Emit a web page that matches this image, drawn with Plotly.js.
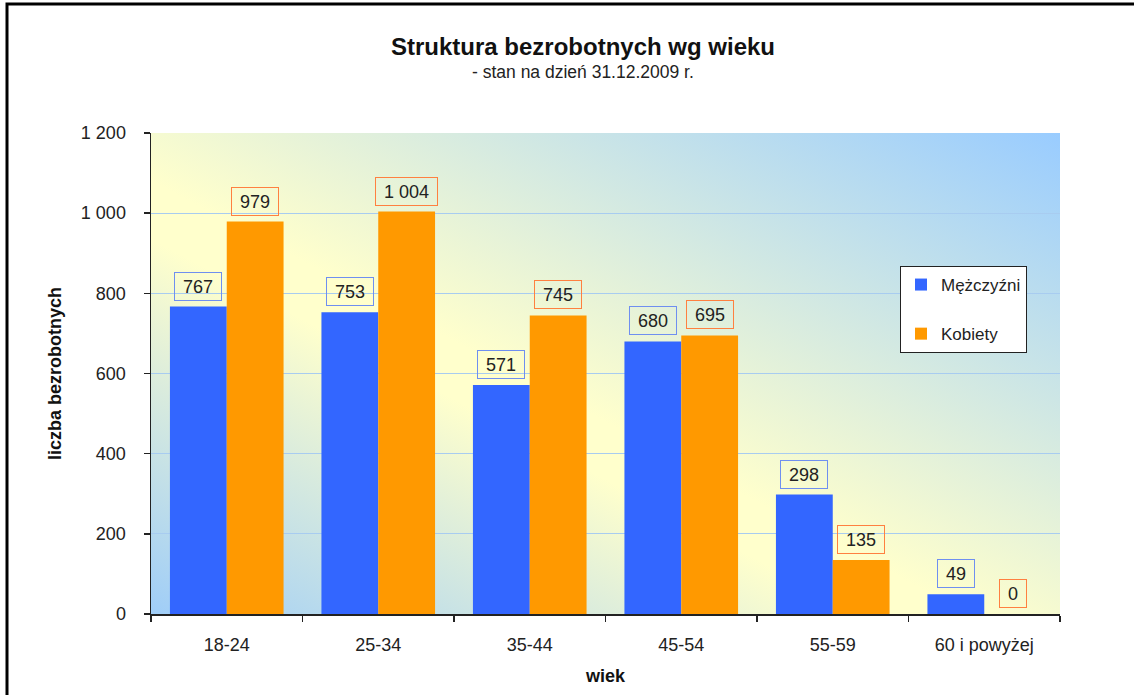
<!DOCTYPE html>
<html>
<head>
<meta charset="utf-8">
<script src="https://cdn.plot.ly/plotly-3.0.1.min.js"></script>
<style>html,body{margin:0;padding:0;background:#fff;}#chart{width:1134px;height:695px;}</style>
</head>
<body>
<div id="chart"></div>
<script>
const categories = ['18-24', '25-34', '35-44', '45-54', '55-59', '60 i powyżej'];
const men = [767, 753, 571, 680, 298, 49];
const women = [979, 1004, 745, 695, 135, 0];
const seriesNames = ['Mężczyźni', 'Kobiety'];
const yTickVals = [0, 200, 400, 600, 800, 1000, 1200];
const titleText = 'Struktura bezrobotnych wg wieku';
const subtitleText = '- stan na dzień 31.12.2009 r.';

const FONT = 'Liberation Sans, Arial, sans-serif';
const BLUE = '#3366FF';
const ORANGE = '#FF9900';
const LABEL_SIZE = 18;
const bargap = 0.25;
const halfBar = (1 - bargap) / 4;

function fmt(v) {
  return String(v).replace(/\B(?=(\d{3})+(?!\d))/g, ' ');
}
const ctx = document.createElement('canvas').getContext('2d');
ctx.font = LABEL_SIZE + 'px "Liberation Sans", Arial, sans-serif';
function boxWidth(t) { return Math.round(ctx.measureText(t).width + 16); }

const gradSvg = "<svg xmlns='http://www.w3.org/2000/svg' width='909' height='481' viewBox='0 0 909 481' preserveAspectRatio='none'>" +
  "<defs><linearGradient id='g' x1='1' y1='0' x2='0' y2='1'>" +
  "<stop offset='0' stop-color='#99CCFF'/>" +
  "<stop offset='0.55' stop-color='#FFFFCC'/>" +
  "<stop offset='0.61' stop-color='#FFFFCC'/>" +
  "<stop offset='1' stop-color='#9FCDF8'/>" +
  "</linearGradient></defs><rect x='0' y='0' width='909' height='481' fill='url(#g)'/></svg>";
const gradSrc = 'data:image/svg+xml;charset=utf-8,' + encodeURIComponent(gradSvg);

const traces = [
  {type: 'bar', name: seriesNames[0], x: categories, y: men, marker: {color: BLUE}, legendgroup: 'm', hoverinfo: 'skip'},
  {type: 'bar', name: seriesNames[1], x: categories, y: women, marker: {color: ORANGE}, legendgroup: 'k', hoverinfo: 'skip'}
];

const L = 151, R = 1060, T = 133, B = 614, W = 1134, H = 695;
const pw = R - L, ph = B - T;

const annotations = [];
categories.forEach((c, i) => {
  const tm = fmt(men[i]), tw = fmt(women[i]);
  annotations.push({x: i - halfBar, y: men[i], xref: 'x', yref: 'y', text: tm, showarrow: false,
    yanchor: 'bottom', yshift: 6, width: boxWidth(tm), height: 27, borderpad: 0,
    bordercolor: '#6F8FF0', borderwidth: 1,
    font: {family: FONT, size: LABEL_SIZE, color: '#222'}});
  annotations.push({x: i + halfBar, y: women[i], xref: 'x', yref: 'y', text: tw, showarrow: false,
    yanchor: 'bottom', yshift: 6, width: boxWidth(tw), height: 27, borderpad: 0,
    bordercolor: '#FF8040', borderwidth: 1,
    font: {family: FONT, size: LABEL_SIZE, color: '#222'}});
});
annotations.push({
  text: subtitleText, xref: 'paper', yref: 'paper', showarrow: false,
  x: (583 - L) / pw, y: (B - 72) / ph, xanchor: 'center', yanchor: 'middle',
  font: {family: FONT, size: 17.5, color: '#222'}
});

const layout = {
  width: W, height: H,
  margin: {l: L, r: W - R, t: T, b: H - B, pad: 0},
  paper_bgcolor: '#FFFFFF',
  plot_bgcolor: 'rgba(0,0,0,0)',
  separators: ', ',
  font: {family: FONT, size: 18, color: '#222'},
  title: {
    text: '<b>' + titleText + '</b>',
    font: {family: FONT, size: 24, color: '#111'},
    x: 583 / W, xanchor: 'center', xref: 'container',
    y: 1 - 47 / H, yanchor: 'middle', yref: 'container'
  },
  barmode: 'group',
  bargap: bargap,
  bargroupgap: 0,
  showlegend: true,
  legend: {
    x: (900 - L) / pw, y: (B - 266) / ph, xanchor: 'left', yanchor: 'top',
    bgcolor: '#FFFFFF', bordercolor: '#222', borderwidth: 1,
    font: {family: FONT, size: 17, color: '#222'},
    traceorder: 'grouped', tracegroupgap: 24, itemwidth: 30
  },
  xaxis: {
    type: 'category',
    showgrid: false,
    showline: true, linecolor: '#222', linewidth: 1.5,
    ticks: 'outside', tickson: 'boundaries', ticklen: 6, tickcolor: '#222', tickwidth: 1.5,
    ticklabelstandoff: 14,
    tickfont: {family: FONT, size: 18, color: '#222'},
    title: {text: '<b>wiek</b>', font: {family: FONT, size: 18, color: '#111'}, standoff: 15},
    automargin: false
  },
  yaxis: {
    range: [0, 1200],
    tickvals: yTickVals,
    tickformat: ',d',
    showgrid: true, gridcolor: '#A8CCF0', gridwidth: 1,
    zeroline: false,
    showline: true, linecolor: '#222', linewidth: 1.5,
    ticks: 'outside', ticklen: 6, tickcolor: '#222', tickwidth: 1.5,
    ticklabelstandoff: 14,
    tickfont: {family: FONT, size: 18, color: '#222'},
    title: {text: '<b>liczba bezrobotnych</b>', font: {family: FONT, size: 18, color: '#111'}, standoff: 14},
    automargin: false
  },
  images: [{
    source: gradSrc, xref: 'paper', yref: 'paper', x: 0, y: 1, sizex: 1, sizey: 1,
    xanchor: 'left', yanchor: 'top', sizing: 'stretch', layer: 'below'
  }],
  shapes: [{
    type: 'rect', xref: 'paper', yref: 'paper',
    x0: (7 - L) / pw, x1: 1.2, y0: -0.5, y1: (B - 4) / ph,
    line: {color: '#000', width: 3}, fillcolor: 'rgba(0,0,0,0)', layer: 'below'
  }],
  annotations: annotations
};

Plotly.newPlot('chart', traces, layout, {displayModeBar: false, staticPlot: true});
</script>
</body>
</html>
